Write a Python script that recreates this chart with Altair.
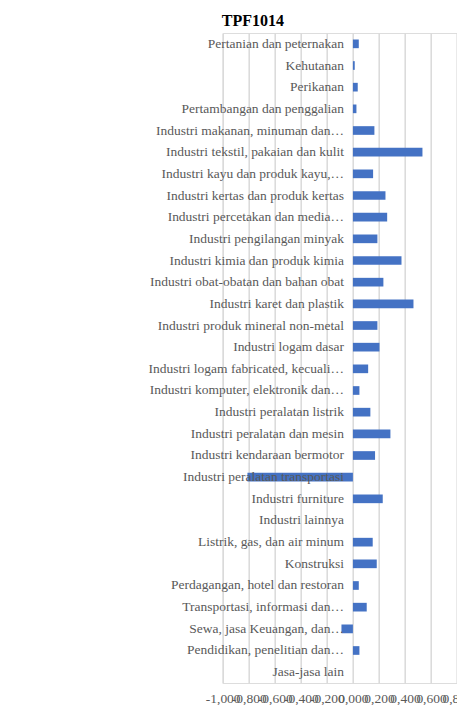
import altair as alt
import pandas as pd

categories = [
    "Pertanian dan peternakan",
    "Kehutanan",
    "Perikanan",
    "Pertambangan dan penggalian",
    "Industri makanan, minuman dan…",
    "Industri tekstil, pakaian dan kulit",
    "Industri kayu dan produk kayu,…",
    "Industri kertas dan produk kertas",
    "Industri percetakan dan media…",
    "Industri pengilangan minyak",
    "Industri kimia dan produk kimia",
    "Industri obat-obatan dan bahan obat",
    "Industri karet dan plastik",
    "Industri produk mineral non-metal",
    "Industri logam dasar",
    "Industri logam fabricated, kecuali…",
    "Industri komputer, elektronik dan…",
    "Industri peralatan listrik",
    "Industri peralatan dan mesin",
    "Industri kendaraan bermotor",
    "Industri peralatan transportasi",
    "Industri furniture",
    "Industri lainnya",
    "Listrik, gas, dan air minum",
    "Konstruksi",
    "Perdagangan, hotel dan restoran",
    "Transportasi, informasi dan…",
    "Sewa, jasa Keuangan, dan…",
    "Pendidikan, penelitian dan…",
    "Jasa-jasa lain",
]

values = [
    0.045, 0.014, 0.037, 0.027, 0.165, 0.534, 0.155, 0.250, 0.263, 0.188,
    0.373, 0.234, 0.465, 0.188, 0.204, 0.117, 0.050, 0.134, 0.288, 0.170,
    -0.810, 0.229, 0.0, 0.152, 0.183, 0.045, 0.106, -0.088, 0.050, 0.0,
]

tick_values = [-1.0, -0.8, -0.6, -0.4, -0.2, 0.0, 0.2, 0.4, 0.6, 0.8]

df = pd.DataFrame({"sektor": categories, "tpf": values})

FONT = "Liberation Serif"
GREY = "#595959"

chart = (
    alt.Chart(df)
    .mark_bar(color="#4472C4")
    .encode(
        x=alt.X(
            "tpf:Q",
            scale=alt.Scale(domain=[-1.0, 0.8], nice=False, zero=False),
            axis=alt.Axis(
                title=None,
                values=tick_values,
                labelExpr="replace(replace(format(datum.value, '.3f'), '.', ','), '\u2212', '-')",
                labelOverlap=False,
                labelFlush=False,
                labelFont=FONT,
                labelFontSize=13.5,
                labelColor=GREY,
                labelPadding=9,
                grid=True,
                gridColor="#d9d9d9",
                gridWidth=1.5,
                domain=False,
                ticks=False,
            ),
        ),
        y=alt.Y(
            "sektor:N",
            sort=categories,
            scale=alt.Scale(paddingInner=0.6, paddingOuter=0.3),
            axis=alt.Axis(
                title=None,
                offset=-130.8,
                labelPadding=10,
                labelLimit=400,
                labelOverlap=False,
                labelBound=False,
                labelFont=FONT,
                labelFontSize=13.5,
                labelColor=GREY,
                ticks=False,
                domain=False,
                grid=False,
                zindex=1,
            ),
        ),
    )
    .properties(
        width=234.4,
        height=650,
        title=alt.TitleParams(
            "TPF1014",
            font=FONT,
            fontSize=16,
            fontWeight="bold",
            color="#000000",
            anchor="middle",
            frame="group",
            dx=-87,
            offset=4,
        ),
        padding={"left": 214.7, "top": 25, "right": 0, "bottom": 22},
        autosize=alt.AutoSizeParams(type="none"),
    )
    .configure_view(stroke=None)
    .configure(background="white")
)

chart.save("out.html", embed_options={"renderer": "svg", "actions": False})
